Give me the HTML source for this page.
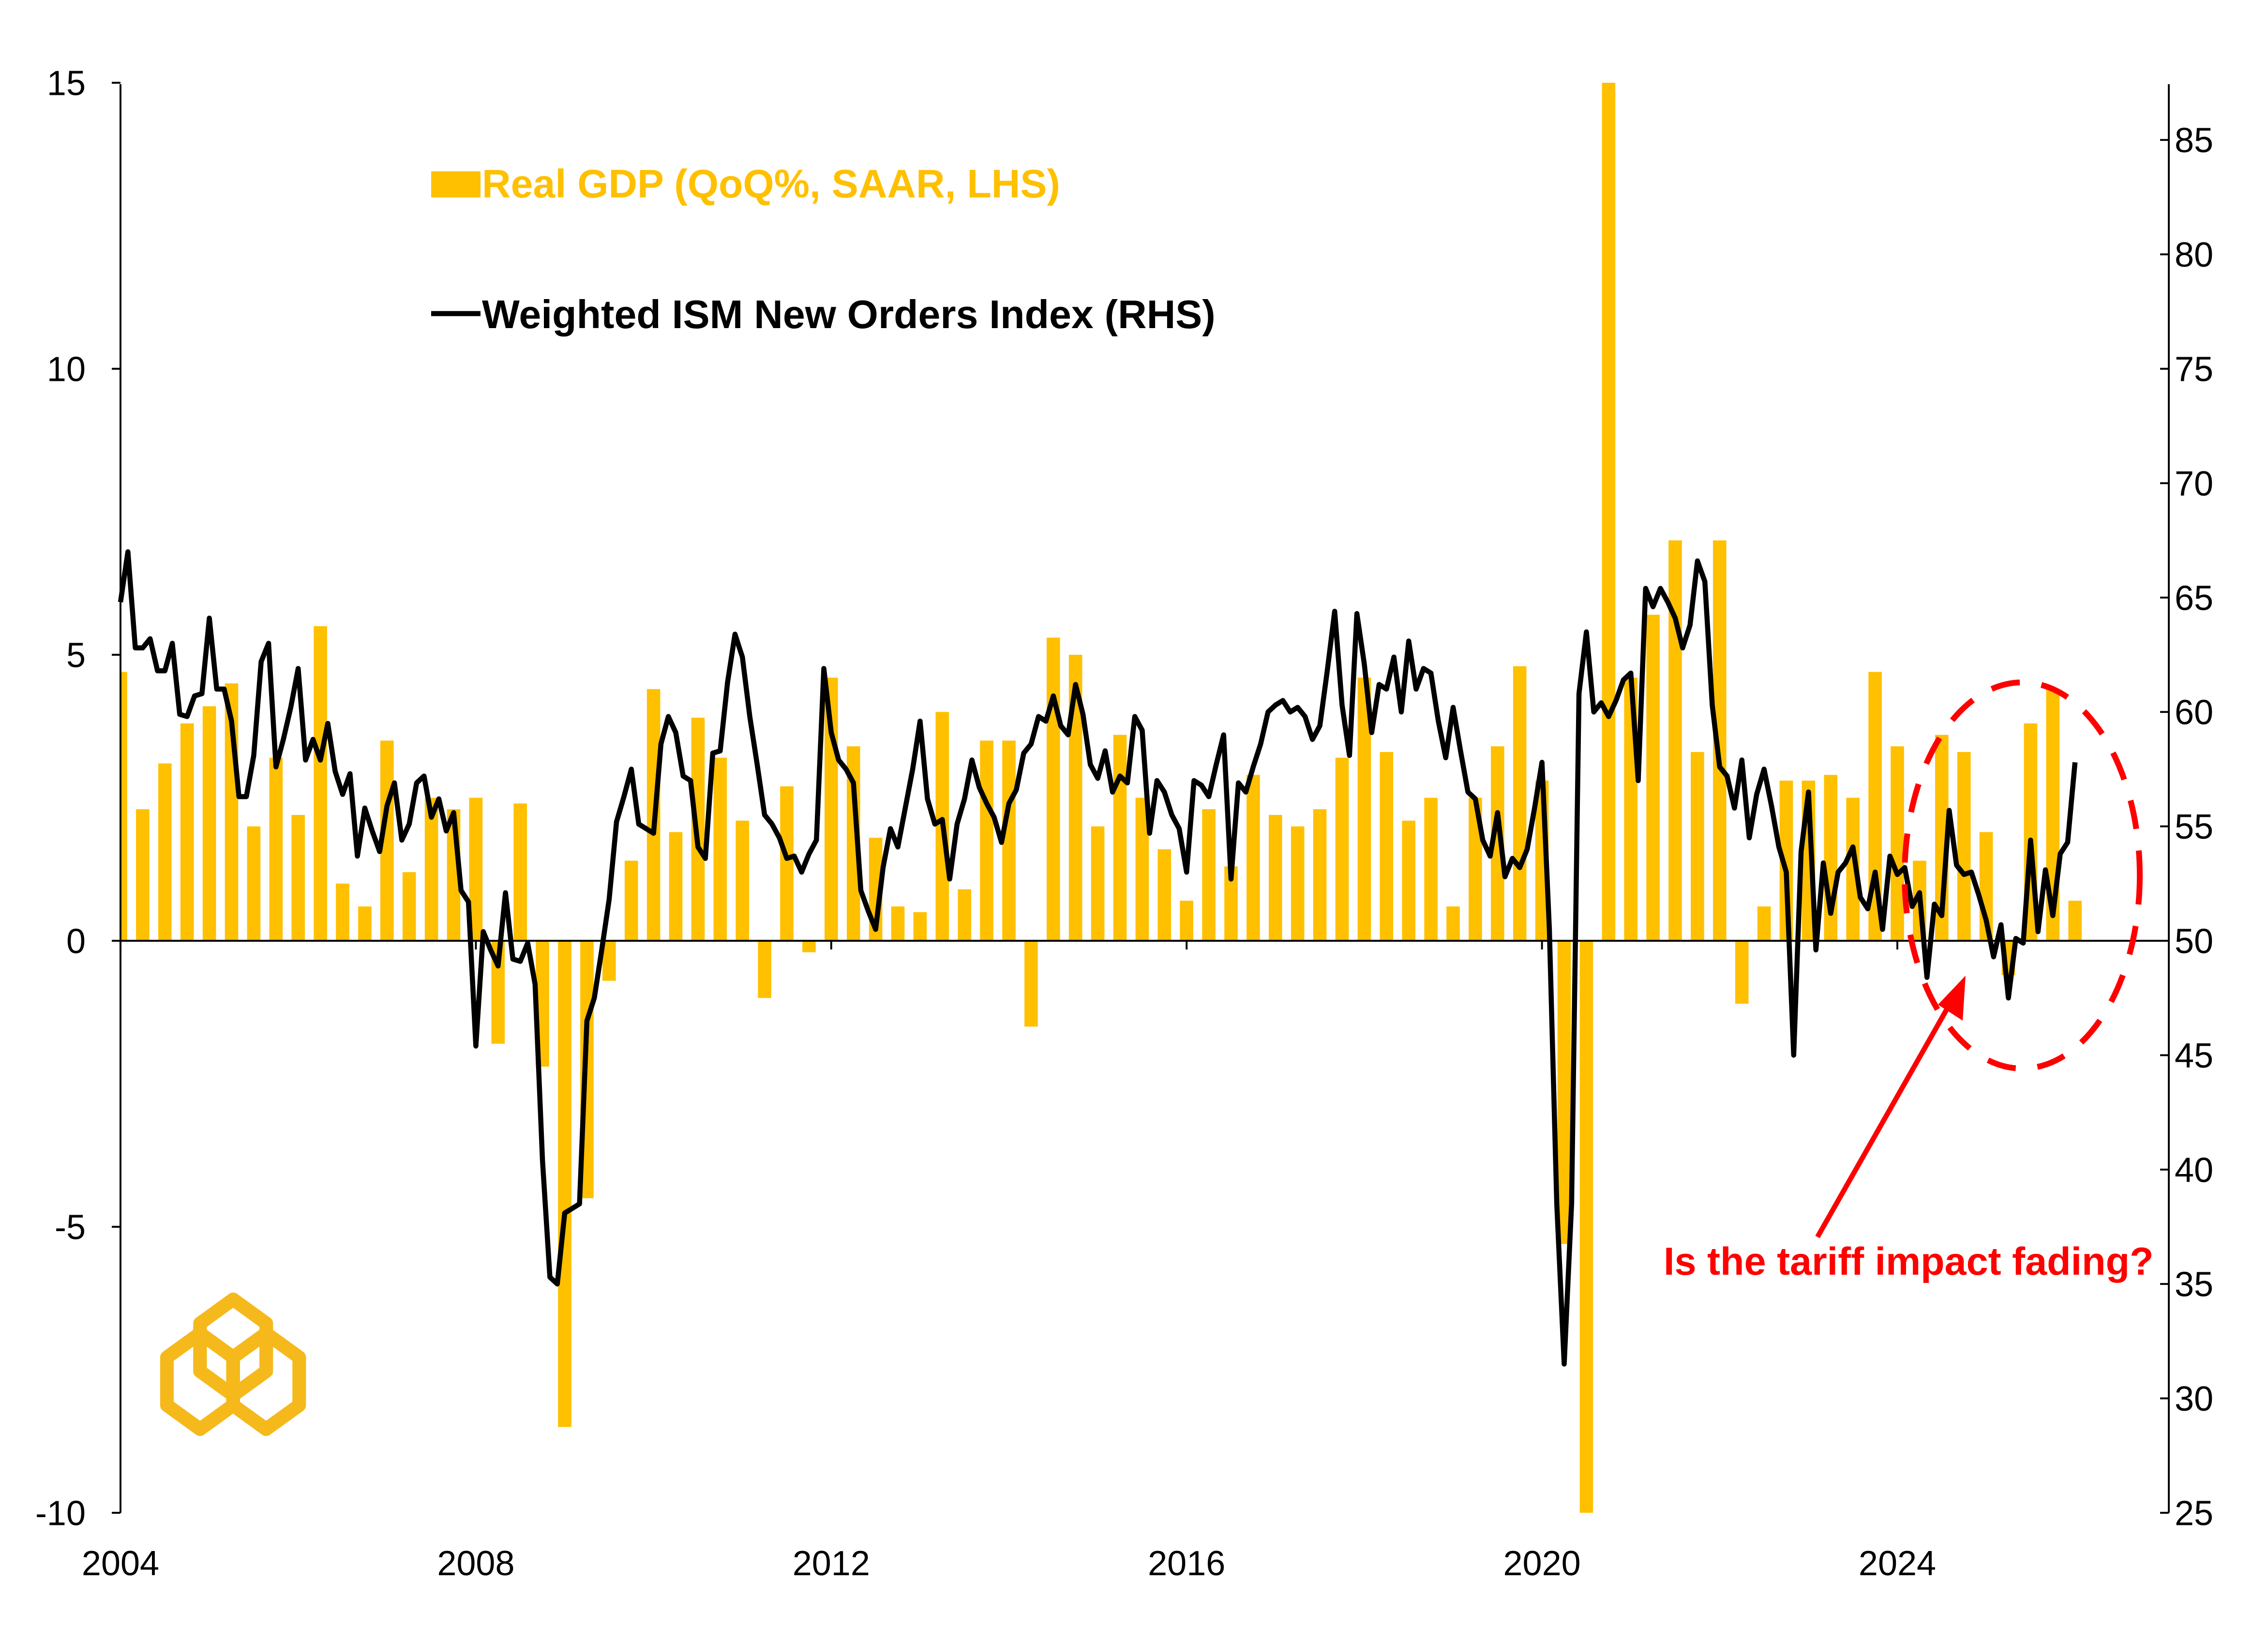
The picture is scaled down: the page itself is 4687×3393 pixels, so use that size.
<!DOCTYPE html>
<html><head><meta charset="utf-8"><style>
html,body{margin:0;padding:0;background:#fff;}
svg{display:block;font-family:"Liberation Sans",Arial,sans-serif;}
</style></head><body>
<svg id="chart" width="4687" height="3393" viewBox="0 0 1562.33 1131" xmlns="http://www.w3.org/2000/svg">
<g id="bars"></g>
<g id="axes"></g>
<g id="line"></g>
<g>
 <rect x="297" y="118" width="34" height="18" fill="#FFC000"/>
 <text x="332" y="136" font-size="27.5" font-weight="bold" fill="#FFC000">Real GDP (QoQ%, SAAR, LHS)</text>
 <line x1="297" y1="216" x2="331" y2="216" stroke="#000" stroke-width="3.5"/>
 <text x="332" y="226" font-size="27.5" font-weight="bold" fill="#000">Weighted ISM New Orders Index (RHS)</text>
</g>
<g>
 <ellipse cx="1393" cy="603" rx="81" ry="133" fill="none" stroke="#FF0000" stroke-width="4" stroke-dasharray="20,15"/>
 <line x1="1252" y1="852" x2="1344" y2="690" stroke="#FF0000" stroke-width="3.5"/>
 <polygon points="1354,672 1352,703 1335,692" fill="#FF0000"/>
 <text x="1146" y="878" font-size="27" font-weight="bold" fill="#FF0000">Is the tariff impact fading?</text>
</g>
<g fill="none" stroke="#F5B91C" stroke-width="9.4" stroke-linejoin="round">
 <polygon points="160.6,895 183.4,911.5 183.4,944.5 160.6,961 137.8,944.5 137.8,911.5"/>
 <polygon points="137.8,918.4 160.6,934.9 160.6,967.9 137.8,984.4 115,967.9 115,934.9"/>
 <polygon points="183.3,918.4 206.1,934.9 206.1,967.9 183.3,984.4 160.5,967.9 160.5,934.9"/>
</g>
</svg>
<script>
const gdpValues = [4.7,2.3,3.1,3.8,4.1,4.5,2.0,3.2,2.2,5.5,1.0,0.6,3.5,1.2,2.5,2.3,2.5,-1.8,2.4,-2.2,-8.5,-4.5,-0.7,1.4,4.4,1.9,3.9,3.2,2.1,-1.0,2.7,-0.2,4.6,3.4,1.8,0.6,0.5,4.0,0.9,3.5,3.5,-1.5,5.3,5.0,2.0,3.6,2.5,1.6,0.7,2.3,1.3,2.9,2.2,2.0,2.3,3.2,4.6,3.3,2.1,2.5,0.6,2.5,3.4,4.8,2.8,-5.3,-28,35,4.6,5.7,7.0,3.3,7.0,-1.1,0.6,2.8,2.8,2.9,2.5,4.7,3.4,1.4,3.6,3.3,1.9,-0.6,3.8,4.4,0.7];
const ismValues = [64.8,67,62.8,62.8,63.2,61.8,61.8,63,59.9,59.8,60.7,60.8,64.1,61,61,59.6,56.3,56.3,58.1,62.2,63,57.6,58.8,60.2,61.9,57.9,58.8,57.9,59.5,57.4,56.4,57.3,53.7,55.8,54.8,53.9,55.9,56.9,54.4,55.1,56.9,57.2,55.4,56.2,54.8,55.6,52.2,51.7,45.4,50.4,49.6,48.9,52.1,49.2,49.1,49.9,48.1,40.4,35.3,35,38.1,38.3,38.5,46.5,47.5,49.6,51.8,55.2,56.3,57.5,55.1,54.9,54.7,58.6,59.8,59.1,57.2,57.0,54.1,53.6,58.2,58.3,61.3,63.4,62.4,59.8,57.7,55.5,55.1,54.5,53.6,53.7,53.0,53.8,54.4,61.9,59.1,57.9,57.5,56.9,52.2,51.3,50.5,53.2,54.9,54.1,55.8,57.5,59.6,56.2,55.1,55.3,52.7,55.1,56.2,57.9,56.7,56.0,55.4,54.3,56,56.6,58.2,58.6,59.8,59.6,60.7,59.4,59,61.2,59.9,57.7,57.1,58.3,56.5,57.2,56.9,59.8,59.2,54.7,57,56.5,55.5,54.9,53,57,56.8,56.3,57.7,59,52.7,56.9,56.5,57.6,58.6,60,60.3,60.5,60,60.2,59.8,58.8,59.4,61.8,64.4,60.3,58.1,64.3,62.1,59.1,61.2,61,62.4,60,63.1,61,61.9,61.7,59.6,58,60.2,58.3,56.5,56.2,54.4,53.7,55.6,52.8,53.6,53.2,54,55.8,57.8,50.5,38.5,31.5,38.5,60.8,63.5,60,60.4,59.8,60.5,61.4,61.7,57,65.4,64.6,65.4,64.8,64.1,62.8,63.8,66.6,65.7,60.3,57.6,57.2,55.8,57.9,54.5,56.4,57.5,55.9,54.1,53.0,45.0,53.9,56.5,49.6,53.4,51.2,53.0,53.4,54.1,51.9,51.4,53.0,50.5,53.7,52.9,53.2,51.5,52.1,48.4,51.6,51.1,55.7,53.3,52.9,53.0,52.0,50.9,49.3,50.7,47.5,50.1,49.9,54.4,50.4,53.1,51.1,53.8,54.3,57.8];
const leftTicks = [15,10,5,0,-5,-10];
const rightTicks = [85,80,75,70,65,60,55,50,45,40,35,30,25];
const yearTicks = [2004,2008,2012,2016,2020,2024];

const NS='http://www.w3.org/2000/svg';
const X0=83, MONTH=5.1, XR=1494;
const xMonth = m => X0 + m*MONTH;
const xYear = y => X0 + (y-2004)*12*MONTH;
const yL = v => 648 - v*39.4;
const yR = v => 648 - (v-50)*15.76;
const TOP=58, BOT=1042;
function mk(tag, attrs, parent){const e=document.createElementNS(NS,tag);for(const k in attrs)e.setAttribute(k,attrs[k]);parent.appendChild(e);return e;}

const gb=document.getElementById('bars');
gdpValues.forEach((v,i)=>{
  const cx=xMonth(i*3);
  const vc=Math.max(-10,Math.min(15,v));
  const y0=yL(0), y1=yL(vc);
  const r=mk('rect',{x:Math.max(X0,cx-4.6),y:Math.min(y0,y1),width:cx-4.6<X0?cx+4.6-X0:9.2,height:Math.abs(y1-y0),fill:'#FFC000'},gb);
  
  
});

const ga=document.getElementById('axes');
let a=mk('line',{x1:X0,y1:TOP,x2:X0,y2:BOT,stroke:'#000','stroke-width':1.3},ga);


a=mk('line',{x1:XR,y1:TOP,x2:XR,y2:BOT,stroke:'#000','stroke-width':1.3},ga);


a=mk('line',{x1:X0,y1:yL(0),x2:XR,y2:yL(0),stroke:'#000','stroke-width':1.3},ga);


leftTicks.forEach(v=>{
  const t=mk('line',{x1:X0-6,y1:yL(v),x2:X0,y2:yL(v),stroke:'#000','stroke-width':1.3},ga);
  
  
  const l=mk('text',{x:X0-24,y:yL(v)+8.5,'font-size':24,'text-anchor':'end',fill:'#000'},ga);
  l.textContent=v;
  
  
});
rightTicks.forEach(v=>{
  const t=mk('line',{x1:XR-6,y1:yR(v),x2:XR,y2:yR(v),stroke:'#000','stroke-width':1.3},ga);
  
  
  const l=mk('text',{x:XR+4,y:yR(v)+8.5,'font-size':24,fill:'#000'},ga);
  l.textContent=v;
  
  
});
yearTicks.forEach(y=>{
  const x=xYear(y);
  const t=mk('line',{x1:x,y1:yL(0),x2:x,y2:yL(0)+6,stroke:'#000','stroke-width':1.3},ga);
  
  
  const l=mk('text',{x:x,y:1085,'font-size':24,'text-anchor':'middle',fill:'#000'},ga);
  l.textContent=y;
  
  
});

const gl=document.getElementById('line');
const pts=ismValues.map((v,i)=>xMonth(i).toFixed(2)+','+yR(v).toFixed(2)).join(' ');
const pl=mk('polyline',{points:pts,fill:'none',stroke:'#000','stroke-width':3.5,'stroke-linejoin':'round'},gl);


</script>
</body></html>
